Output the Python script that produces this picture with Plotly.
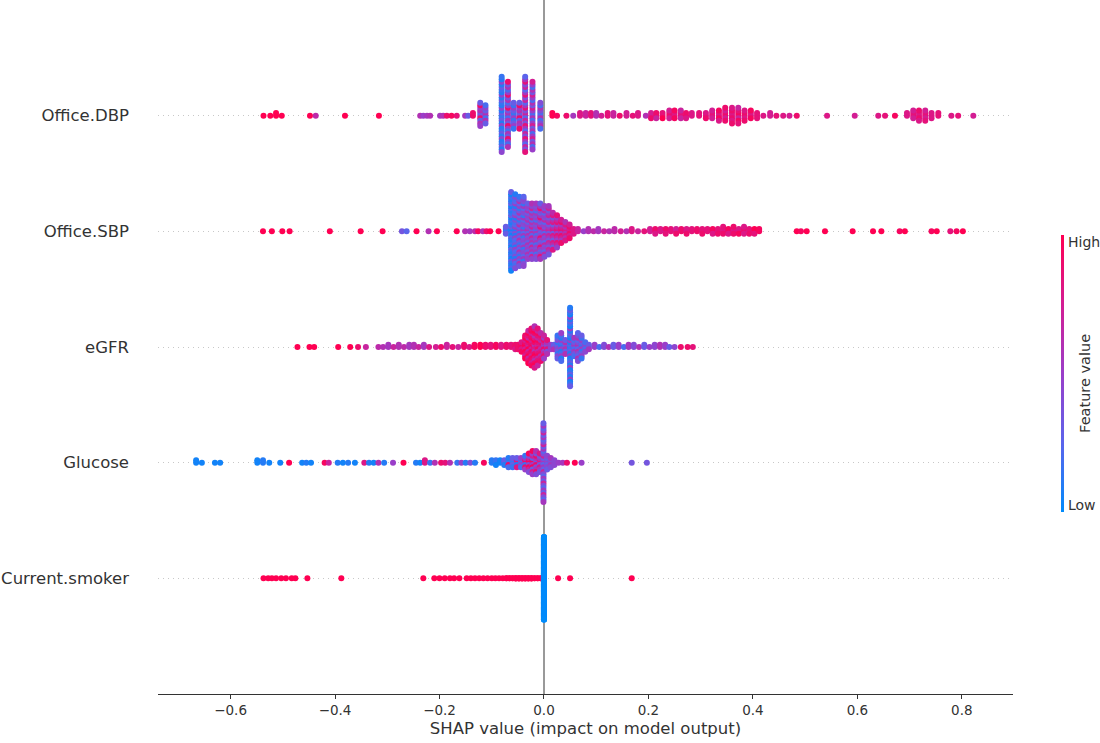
import math
import plotly.graph_objects as go

# feature names, bottom row (0) to top row (4)
features = ["Current.smoker", "Glucose", "eGFR", "Office.SBP", "Office.DBP"]
x_tick_vals = [-0.6, -0.4, -0.2, 0.0, 0.2, 0.4, 0.6, 0.8]
x_tick_text = ["\u22120.6", "\u22120.4", "\u22120.2", "0.0", "0.2", "0.4", "0.6", "0.8"]

# ---- Office.DBP : SHAP value, number of points at that value, feature value (0 low .. 1 high)
dbp_shap = [-0.537, -0.524, -0.513, -0.502, -0.448, -0.437, -0.381, -0.316,
            -0.237, -0.231, -0.224, -0.218, -0.199, -0.193, -0.186, -0.177, -0.167,
            -0.151, -0.145, -0.136, -0.122, -0.112, -0.081, -0.069, -0.058, -0.047, -0.036, -0.022, -0.007,
            0.016, 0.025, 0.043, 0.056, 0.069, 0.080, 0.090, 0.100, 0.110, 0.122,
            0.133, 0.145, 0.158, 0.170, 0.180, 0.195, 0.205, 0.215, 0.227, 0.240,
            0.250, 0.262, 0.272, 0.283, 0.297, 0.310, 0.322, 0.335, 0.347, 0.360,
            0.372, 0.384, 0.396, 0.408, 0.420, 0.433, 0.445, 0.458, 0.470, 0.484,
            0.542, 0.595, 0.640, 0.653, 0.672, 0.695, 0.707, 0.718, 0.730, 0.742,
            0.755, 0.780, 0.793, 0.822]
dbp_n = [1, 1, 2, 1, 1, 1, 1, 1,
         1, 1, 1, 1, 1, 1, 1, 1, 1,
         1, 1, 2, 10, 8, 30, 26, 11, 11, 30, 27, 11,
         2, 1, 1, 1, 2, 2, 2, 2, 1, 2,
         2, 1, 2, 1, 2, 1, 3, 3, 3, 4,
         4, 4, 3, 2, 2, 3, 4, 5, 6, 7,
         7, 5, 4, 3, 1, 2, 1, 1, 1, 1,
         1, 1, 1, 1, 1, 2, 4, 5, 5, 3,
         2, 1, 1, 1]
dbp_color = [1, 1, 1, 1, 1, 0.65, 1, 1,
             0.6, 0.5, 0.55, 0.6, 0.55, 0.6, 0.9, 0.95, 0.85,
             0.55, 0.3, [0.9, 0.95], [0.5, 0.9, 0.3, 0.6], [0.45, 0.2, 0.6, 0.3],
             [0.1, 0.15, 0.3, 0.1, 0.45], [0.5, 0.2, 0.6, 0.35, 0.9], [0.3, 0.5, 0.15],
             [0.5, 0.9, 0.3, 0.6], [0.55, 0.25, 0.7, 0.4, 0.85], [0.35, 0.6, 0.2, 0.5, 0.75], [0.4, 0.6, 0.2],
             1, 0.95, 0.9, 0.55, [0.8, 0.6], [0.7, 0.9], [0.85, 0.6], [0.6, 0.8], 0.75, [0.85, 0.65],
             [0.7, 0.9], 0.9, [0.75, 0.6], 0.85, [0.8, 0.95], 0.6, [0.75, 0.9], [0.9, 0.7], [0.85, 1.0], [0.9, 0.75],
             [0.8, 0.95], [0.85, 0.7], [0.9, 0.8], 0.8, 0.85, [0.8, 0.9], [0.85, 0.75], [0.8, 0.95], [0.9, 0.75], [0.8, 0.9],
             [0.85, 0.7, 0.95], [0.9, 0.8], [0.8, 0.95], 0.85, 0.8, 0.75, 0.85, 0.8, 0.75, 0.9,
             0.8, 0.75, 0.8, 0.85, 0.95, 0.8, [0.85, 0.75], [0.8, 0.9], [0.85, 0.75], 0.8,
             0.85, 0.8, 0.85, 0.75]

# ---- Office.SBP
sbp_shap = [-0.538, -0.521, -0.501, -0.487, -0.410, -0.351, -0.309, -0.272, -0.263, -0.244,
            -0.221, -0.205, -0.167, -0.151, -0.142, -0.132, -0.126, -0.117, -0.110, -0.103,
            -0.087, -0.073,
            -0.063, -0.055, -0.047, -0.039, -0.031, -0.023, -0.015, -0.007, 0.001, 0.009,
            0.017, 0.025, 0.033, 0.041, 0.049, 0.057, 0.065,
            0.076, 0.085, 0.095, 0.104, 0.115, 0.125, 0.135, 0.147, 0.158, 0.168,
            0.180, 0.192, 0.203, 0.213, 0.223, 0.233, 0.243, 0.253, 0.263, 0.273,
            0.283, 0.293, 0.303, 0.313, 0.323, 0.333, 0.343, 0.353, 0.363, 0.373,
            0.383, 0.393, 0.403, 0.412, 0.484, 0.492, 0.503, 0.538, 0.591, 0.630,
            0.646, 0.681, 0.691, 0.742, 0.752, 0.778, 0.790, 0.802]
sbp_n = [1, 1, 1, 1, 1, 1, 1, 1, 1, 1,
         1, 1, 1, 1, 1, 1, 1, 1, 1, 1,
         1, 4,
         35, 33, 31, 31, 25, 25, 25, 25, 23, 22,
         17, 15, 11, 9, 7, 3, 2,
         1, 2, 1, 2, 1, 1, 2, 1, 1, 2,
         1, 1, 2, 3, 2, 3, 2, 3, 2, 3,
         2, 2, 3, 2, 3, 3, 4, 3, 4, 3,
         4, 3, 3, 2, 1, 1, 1, 1, 1, 1,
         1, 1, 1, 1, 1, 1, 1, 1]
sbp_color = [1, 1, 1, 1, 1, 1, 1, 0.35, 0.25, 1,
             0.6, 1, 1, 0.6, 0.55, 0.65, 0.95, 0.6, 0.9, 1,
             1, [0.15, 0.3],
             [0.1, 0.2, 0.05, 0.3, 0.15], [0.2, 0.4, 0.1, 0.5, 0.25], [0.35, 0.15, 0.5, 0.25, 0.6],
             [0.45, 0.25, 0.55, 0.15, 0.4], [0.5, 0.3, 0.6, 0.4], [0.45, 0.6, 0.25, 0.7],
             [0.4, 0.55, 0.2, 0.5], [0.55, 0.3, 0.45, 0.85], [0.5, 0.25, 0.65, 0.4], [0.55, 0.35, 0.7],
             [0.65, 0.35, 0.8], [0.7, 0.5, 0.85], [0.75, 0.55, 0.9], [0.8, 0.6], [0.75, 0.9], 0.8, 0.7,
             0.5, [0.6, 0.55], 0.65, [0.55, 0.6], 0.7, 0.6, [0.65, 0.75], 0.75, 0.6, [0.8, 0.7],
             0.7, 0.85, [0.75, 0.8], [0.85, 0.8, 0.9], [0.8, 0.7], [0.7, 0.85, 0.9], [0.85, 0.8], [0.8, 0.9, 0.75], [0.9, 0.85], [0.75, 0.9, 0.8],
             [0.85, 0.9], [0.9, 0.8], [0.8, 0.9, 0.85], [0.85, 0.8], [0.9, 0.8, 0.95], [0.8, 0.9, 0.85], [0.85, 0.9, 0.8], [0.9, 0.8, 0.95], [0.8, 0.9], [0.85, 0.95, 0.8],
             [0.9, 0.8], [0.75, 0.9, 0.85], [0.9, 0.85, 1.0], 0.95, 1, 0.95, 1, 1, 1, 1,
             1, 0.95, 1, 0.95, 1, 0.85, 0.95, 1]

# ---- eGFR
egfr_shap = [-0.472, -0.449, -0.440, -0.394, -0.371, -0.356, -0.341,
             -0.317, -0.308, -0.298, -0.288, -0.278, -0.268, -0.258, -0.249, -0.240, -0.230,
             -0.220, -0.207, -0.197, -0.186, -0.175, -0.164, -0.153, -0.143, -0.133, -0.122,
             -0.112, -0.102, -0.092, -0.082, -0.072, -0.063, -0.055,
             -0.050, -0.043, -0.036, -0.030, -0.024, -0.018, -0.012, -0.006, 0.000, 0.006,
             0.013, 0.019, 0.026, 0.033, 0.041, 0.050, 0.058, 0.065, 0.072, 0.079, 0.086,
             0.097, 0.106, 0.115, 0.124, 0.133, 0.143, 0.153, 0.162, 0.172, 0.182,
             0.192, 0.202, 0.212, 0.222, 0.232, 0.240, 0.250, 0.262, 0.275, 0.285]
egfr_n = [1, 1, 1, 1, 1, 1, 1,
          1, 1, 2, 1, 2, 1, 2, 2, 1, 2,
          1, 1, 1, 2, 1, 1, 2, 1, 2, 2,
          2, 2, 2, 2, 2, 2, 3,
          3, 5, 11, 15, 17, 19, 17, 13, 11, 7,
          3, 3, 11, 13, 7, 35, 9, 13, 11, 5, 3,
          2, 1, 2, 1, 2, 2, 1, 2, 2, 1,
          2, 1, 2, 2, 2, 1, 1, 1, 1, 1]
egfr_color = [1, 1, 1, 1, 1, 0.9, 0.7,
              0.65, 0.6, [0.55, 0.7], 0.7, [0.6, 0.5], 0.65, [0.55, 0.7], [0.6, 0.8], 0.7, [0.55, 0.65],
              0.8, 0.75, 0.9, [0.7, 0.85], 0.85, 0.7, [0.9, 1.0], 0.8, [0.95, 0.85], [1.0, 0.9],
              [0.9, 0.8], [0.85, 1.0], [0.95, 0.7], [0.8, 0.95], [0.9, 0.75], [0.85, 1.0], [0.9, 0.8],
              [0.9], [0.95, 0.8], [0.9, 0.75, 1.0], [0.85, 1.0, 0.7], [0.9, 0.75, 0.95], [1.0, 0.8, 0.6, 0.9],
              [0.85, 0.95, 0.7], [0.9, 0.65, 0.8], [0.7, 0.9, 0.5], [0.6, 0.85, 0.4],
              [0.5], [0.3, 0.6], [0.15, 0.45, 0.3], [0.2, 0.5, 0.1], [0.3, 0.6], [0.05, 0.15, 0.3, 0.1, 0.5],
              [0.35, 0.2, 0.55], [0.4, 0.25, 0.6], [0.3, 0.5, 0.15], [0.45, 0.2], [0.3, 0.55],
              [0.5, 0.3], 0.2, [0.4, 0.15], 0.6, [0.3, 0.5], [0.5, 0.2], 0.2, [0.55, 0.35], [0.4, 0.6], 0.6,
              [0.3, 0.45], 0.5, [0.45, 0.2], [0.6, 0.4], [0.5, 0.65], 0.3, 0.45, 0.9, 0.9, 0.85]

# ---- Glucose
glu_shap = [-0.666, -0.655, -0.630, -0.620, -0.549, -0.538, -0.526, -0.505, -0.488, -0.463,
            -0.455, -0.446, -0.420, -0.412, -0.395, -0.385, -0.375, -0.362, -0.344, -0.335,
            -0.326, -0.317, -0.306, -0.289, -0.269, -0.245, -0.237, -0.228, -0.218, -0.209,
            -0.197, -0.189, -0.180, -0.166, -0.158, -0.150, -0.141, -0.132, -0.115,
            -0.100, -0.092, -0.084, -0.076, -0.068, -0.060, -0.052, -0.044, -0.036, -0.029,
            -0.022, -0.015, -0.008, -0.001, 0.006, 0.013, 0.020, 0.028, 0.036, 0.044,
            0.059, 0.072, 0.168, 0.197]
glu_n = [2, 1, 1, 1, 2, 2, 1, 1, 1, 1,
         1, 1, 1, 1, 1, 1, 1, 1, 1, 1,
         1, 1, 1, 1, 1, 1, 1, 2, 1, 1,
         1, 1, 1, 1, 1, 1, 1, 1, 1,
         2, 3, 2, 3, 5, 5, 5, 5, 7, 9,
         11, 11, 9, 35, 7, 5, 3, 1, 1, 1,
         1, 1, 1, 1]
glu_color = [0.05, 0.05, 0.05, 0.05, 0.05, [0.1, 0.05], 0.05, 0.05, 1, 0.05,
             0.1, 0.05, 0.95, 0.7, 0.1, 0.05, 0.1, 0.05, 0.8, 0.1,
             0.05, 0.6, 0.1, 0.5, 1, 0.1, 0.05, [0.8, 0.15], 0.15, 0.6,
             0.9, 0.85, 0.6, 0.15, 0.5, 0.1, 0.4, 0.1, 0.95,
             [0.1], [0.15, 0.05], [0.05], [0.3, 0.1], [0.1, 0.9, 0.2], [0.15, 0.3], [0.3, 0.1, 0.8], [0.2, 0.5],
             [0.5, 0.15, 0.9], [0.7, 0.4, 0.95],
             [0.75, 0.5, 0.95, 0.3], [0.6, 0.9, 0.4], [0.55, 0.35, 0.8], [0.4, 0.25, 0.55, 0.3, 0.7],
             [0.45, 0.3], [0.4, 0.55], [0.45], 0.5, 0.55, 0.9,
             1, 0.5, 0.35, 0.35]

# ---- Current.smoker
smk_shap = [-0.537, -0.528, -0.521, -0.513, -0.503, -0.494, -0.483, -0.476, -0.453, -0.388,
            -0.231, -0.210, -0.200, -0.190, -0.180, -0.172, -0.162, -0.148, -0.140, -0.132,
            -0.124, -0.116, -0.108, -0.100, -0.093, -0.086, -0.079, -0.072, -0.066, -0.060,
            -0.054, -0.048, -0.042, -0.036, -0.030, -0.024, -0.018, -0.012, -0.006, 0.000,
            0.027, 0.050, 0.168]
smk_n = [1, 1, 1, 1, 1, 1, 1, 1, 1, 1,
         1, 1, 1, 1, 1, 1, 1, 1, 1, 1,
         1, 1, 1, 1, 1, 1, 1, 2, 2, 2,
         3, 3, 3, 3, 3, 3, 2, 2, 2, 401,
         1, 1, 1]
smk_color = [1, 1, 1, 1, 1, 1, 1, 1, 1, 1,
             1, 1, 1, 1, 1, 1, 1, 1, 1, 1,
             1, 1, 1, 1, 1, 1, 1, 1, 1, 1,
             1, 1, 1, 1, 1, 1, 1, 1, 1, 0,
             1, 1, 1]

feature_data = [
    (smk_shap, smk_n, smk_color),
    (glu_shap, glu_n, glu_color),
    (egfr_shap, egfr_n, egfr_color),
    (sbp_shap, sbp_n, sbp_color),
    (dbp_shap, dbp_n, dbp_color),
]

ROW_HEIGHT = 0.4


def beeswarm(shaps, counts, colors, row):
    """SHAP-style stacking: points sharing a value alternate up/down in layers."""
    assert len(shaps) == len(counts) == len(colors)
    max_layer = max(n // 2 for n in counts)
    scale = 0.9 * ROW_HEIGHT / (max_layer + 1)
    xs, ys, cs = [], [], []
    for x, n, c in zip(shaps, counts, colors):
        clist = c if isinstance(c, list) else [c]
        for j in range(n):
            k = math.ceil(j / 2)
            s = 1 if j % 2 else -1
            idx = (k + (1 if s > 0 else 0)) % len(clist)
            xs.append(x)
            ys.append(row + k * s * scale)
            cs.append(clist[idx])
    return xs, ys, cs


colorscale = [
    [0.0, "#008bfb"],
    [0.25, "#5b64ec"],
    [0.5, "#9a3ec9"],
    [0.75, "#d31d93"],
    [1.0, "#ff0052"],
]

fig = go.Figure()
for row, (shaps, counts, colors) in enumerate(feature_data):
    xs, ys, cs = beeswarm(shaps, counts, colors, row)
    fig.add_trace(go.Scatter(
        x=xs, y=ys, mode="markers",
        marker=dict(size=6, color=cs, coloraxis="coloraxis", line=dict(width=0), opacity=1),
        hoverinfo="skip", showlegend=False,
    ))

fig.update_layout(
    width=1100, height=743,
    margin=dict(l=158, r=87, t=0, b=49),
    plot_bgcolor="white", paper_bgcolor="white",
    font=dict(family="DejaVu Sans", color="#333333"),
    showlegend=False,
    coloraxis=dict(
        colorscale=colorscale, cmin=0, cmax=1,
        colorbar=dict(
            thickness=3, len=0.399, lenmode="fraction",
            y=0.4615, yanchor="middle", x=1.056, xanchor="left", xpad=0, ypad=0,
            outlinewidth=0, showticklabels=False, ticks="",
        ),
    ),
    xaxis=dict(
        range=[-0.739, 0.898],
        tickvals=x_tick_vals, ticktext=x_tick_text,
        showgrid=False,
        zeroline=True, zerolinecolor="#999999", zerolinewidth=1.5,
        showline=True, linecolor="#333333", linewidth=1.3,
        ticks="outside", ticklen=4, tickwidth=1, tickcolor="#333333",
        tickfont=dict(size=13.5, color="#333333"),
        title=dict(text="SHAP value (impact on model output)", font=dict(size=16.5, color="#333333"), standoff=5),
    ),
    yaxis=dict(
        range=[-1, 5],
        tickvals=list(range(len(features))), ticktext=features,
        showgrid=True, gridcolor="#c8c8c8", griddash="1px,4px", gridwidth=1,
        zeroline=False, showline=False, ticks="",
        tickfont=dict(size=16.5, color="#333333"),
        ticklabelstandoff=28,
    ),
    annotations=[
        dict(text="High", xref="paper", yref="paper", x=1.0615, y=0.651, xanchor="left", yanchor="middle",
             showarrow=False, font=dict(size=14, color="#333333")),
        dict(text="Low", xref="paper", yref="paper", x=1.0615, y=0.272, xanchor="left", yanchor="middle",
             showarrow=False, font=dict(size=14, color="#333333")),
        dict(text="Feature value", xref="paper", yref="paper", x=1.084, y=0.448, xanchor="center", yanchor="middle",
             textangle=-90, showarrow=False, font=dict(size=14.5, color="#333333")),
    ],
)

fig.write_html("out.html", config={"displayModeBar": False},
               post_script="document.body.style.margin='0px';")
